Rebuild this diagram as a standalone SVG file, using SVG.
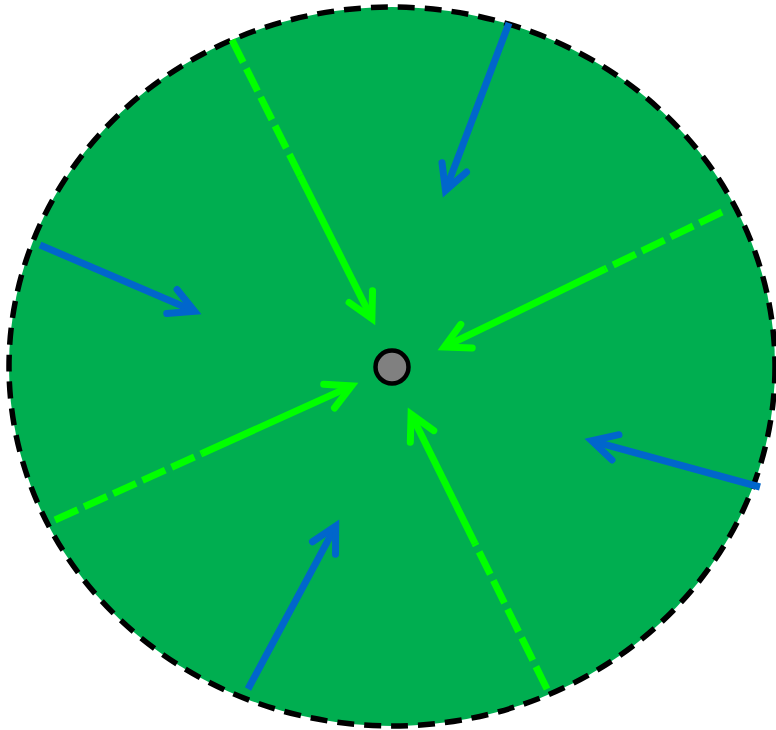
<svg xmlns="http://www.w3.org/2000/svg" width="776" height="730" viewBox="0 0 776 730">
  <defs>
    <style>
      .disk { fill: #00AE50; stroke: #000; stroke-width: 5.5; stroke-dasharray: 17 10; }
      .g { stroke: #00FF00; stroke-width: 7; fill: none; }
      .gd { stroke-dasharray: 25 7; }
      .b { stroke: #0066CC; stroke-width: 7; fill: none; }
      .hub { fill: #808080; stroke: #000; stroke-width: 4.5; }
    </style>
    <marker id="ag" markerUnits="userSpaceOnUse" orient="auto" refX="0" refY="0" markerWidth="60" markerHeight="60" viewBox="-40 -30 60 60" overflow="visible">
      <path d="M-24.7,-13.1 L0,0 L-24.7,13.1" fill="none" stroke="#00FF00" stroke-width="7" stroke-linejoin="miter" stroke-linecap="round"/>
    </marker>
    <marker id="ab" markerUnits="userSpaceOnUse" orient="auto" refX="0" refY="0" markerWidth="60" markerHeight="60" viewBox="-40 -30 60 60" overflow="visible">
      <path d="M-24.7,-13.1 L0,0 L-24.7,13.1" fill="none" stroke="#0066CC" stroke-width="7" stroke-linejoin="miter" stroke-linecap="round"/>
    </marker>
  </defs>
  <g id="disk">
    <ellipse class="disk" cx="392" cy="366.5" rx="383" ry="359.5"/>
  </g>
  <g id="connectors">
    <line class="g gd" x1="232" y1="40" x2="300" y2="175.6"/>
    <line class="g" x1="300" y1="175.6" x2="371.9" y2="318.7" marker-end="url(#ag)"/>
    <line class="g gd" x1="722" y1="212" x2="605" y2="269"/>
    <line class="g" x1="605" y1="269" x2="444.3" y2="346.9" marker-end="url(#ag)"/>
    <line class="g gd" x1="55" y1="520" x2="202" y2="453.5"/>
    <line class="g" x1="202" y1="453.5" x2="351.6" y2="385.9" marker-end="url(#ag)"/>
    <line class="g gd" x1="547" y1="689" x2="475" y2="543.5"/>
    <line class="g" x1="475" y1="543.5" x2="411.1" y2="414.3" marker-end="url(#ag)"/>
    <line class="b" x1="509" y1="23" x2="445.5" y2="190.5" marker-end="url(#ab)"/>
    <line class="b" x1="40" y1="245" x2="194.6" y2="311.2" marker-end="url(#ab)"/>
    <line class="b" x1="760" y1="487" x2="591.7" y2="440.8" marker-end="url(#ab)"/>
    <line class="b" x1="248" y1="689" x2="335.7" y2="526.2" marker-end="url(#ab)"/>
  </g>
  <g id="hub">
    <circle class="hub" cx="392" cy="367" r="16.5"/>
  </g>
</svg>
